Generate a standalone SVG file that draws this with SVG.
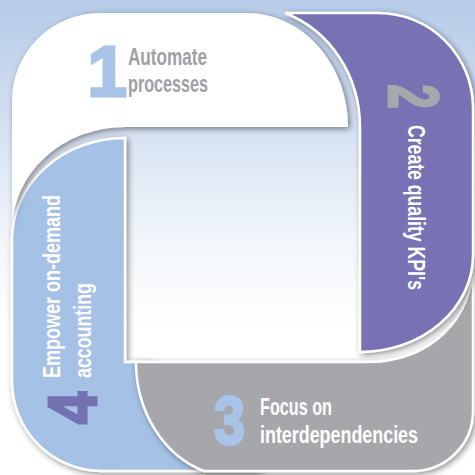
<svg xmlns="http://www.w3.org/2000/svg" width="475" height="475" viewBox="0 0 475 475">
  <defs>
    <linearGradient id="bg" x1="0" y1="0" x2="0" y2="1">
      <stop offset="0" stop-color="#b6cbe8"/>
      <stop offset="0.25" stop-color="#d2dff1"/>
      <stop offset="0.5" stop-color="#f2f6fb"/>
      <stop offset="0.7" stop-color="#ffffff"/>
      <stop offset="1" stop-color="#ffffff"/>
    </linearGradient>
    <filter id="sh" x="-10%" y="-10%" width="125%" height="125%">
      <feGaussianBlur in="SourceAlpha" stdDeviation="3"/>
      <feOffset dx="2" dy="2" result="b"/>
      <feComponentTransfer in="b" result="s">
        <feFuncA type="linear" slope="0.45"/>
      </feComponentTransfer>
      <feMerge>
        <feMergeNode in="s"/>
        <feMergeNode in="SourceGraphic"/>
      </feMerge>
    </filter>
  </defs>
  <style>
    .seg { filter: url(#sh); }
    .out { stroke: #ffffff; stroke-width: 2.5; }
    .t { font-family: "Liberation Sans", Arial, sans-serif; font-weight: bold; font-size: 24px; }
    .d { font-family: "Liberation Sans", Arial, sans-serif; font-weight: bold; stroke-width: 3; }
  </style>
  <rect x="0" y="0" width="475" height="475" fill="url(#bg)"/>

  <g id="node4">
    <path class="seg out" fill="#a6c1e6" d="M 125 138 V 362 H 150 L 200 420 L 260 471 H 102 A 90 90 0 0 1 12 381 V 240 A 113 102 0 0 1 125 138 Z"/>
    <text class="d" font-size="69" fill="#7471b1" stroke="#7471b1" transform="translate(95.5,424) rotate(-90)" textLength="32" lengthAdjust="spacingAndGlyphs">4</text>
    <text class="t" fill="#ffffff" transform="translate(60,378) rotate(-90)" textLength="183" lengthAdjust="spacingAndGlyphs">Empower on-demand</text>
    <text class="t" fill="#ffffff" transform="translate(91,378) rotate(-90)" textLength="95" lengthAdjust="spacingAndGlyphs">accounting</text>
  </g>

  <g id="node3">
    <path class="seg out" fill="#a6a7ab" d="M 136 362 H 366 C 430 362 473 320 473 262 V 411 A 60 60 0 0 1 413 471 H 204 A 100 115 0 0 1 136 362 Z"/>
    <text class="d" font-size="69" fill="#a8c3e7" stroke="#a8c3e7" x="214" y="443.5" textLength="31" lengthAdjust="spacingAndGlyphs">3</text>
    <text class="t" fill="#ffffff" x="260" y="415" textLength="72" lengthAdjust="spacingAndGlyphs">Focus on</text>
    <text class="t" fill="#ffffff" x="260" y="443" textLength="158" lengthAdjust="spacingAndGlyphs">interdependencies</text>
  </g>

  <g id="node2">
    <path class="seg out" fill="#7672b3" d="M 285 13 H 378 A 95 95 0 0 1 473 108 V 255 A 113 97 0 0 1 360 352 V 127 A 113 121 0 0 0 285 13 Z"/>
    <text class="d" font-size="71" fill="#a7a8ac" stroke="#a7a8ac" transform="translate(388.5,84.5) rotate(90)" textLength="24" lengthAdjust="spacingAndGlyphs">2</text>
    <text class="t" fill="#ffffff" transform="translate(408,125) rotate(90)" textLength="165" lengthAdjust="spacingAndGlyphs">Create quality KPI's</text>
  </g>

  <g id="node1">
    <path class="seg" fill="#ffffff" d="M 12 101 A 88 88 0 0 1 100 13 H 247 A 101 114 0 0 1 348 127 H 125 A 113 103 0 0 0 12 230 Z"/>
    <text class="d" font-size="71" fill="#a8c3e7" stroke="#a8c3e7" x="87.4" y="95.5">1</text>
    <text class="t" fill="#9fa0a4" x="128" y="65" textLength="79" lengthAdjust="spacingAndGlyphs">Automate</text>
    <text class="t" fill="#9fa0a4" x="128" y="92" textLength="80" lengthAdjust="spacingAndGlyphs">processes</text>
  </g>
</svg>
